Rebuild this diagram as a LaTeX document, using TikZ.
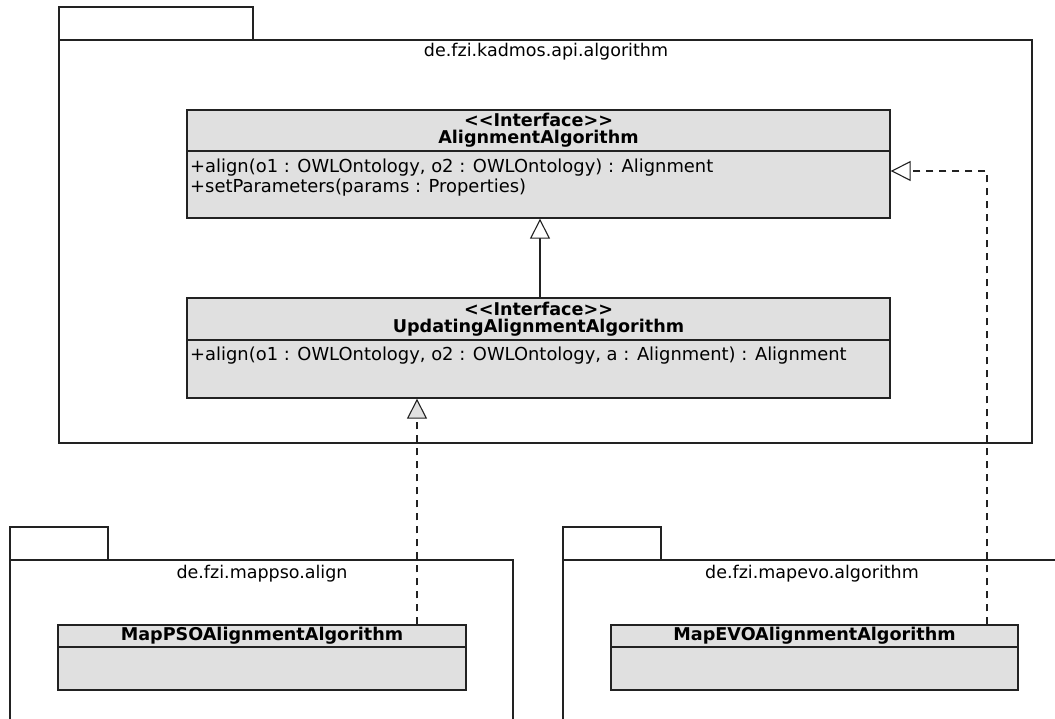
\documentclass[tikz,border=0pt]{standalone}
\usepackage{fontspec}
\setmainfont{DejaVu Sans}
\usetikzlibrary{arrows.meta}
\definecolor{boxgray}{RGB}{224,224,224}
\definecolor{ink}{RGB}{34,34,34}
\begin{document}
\begin{tikzpicture}[x=1pt,y=-1pt,
  every node/.style={font=\fontsize{17.5}{20}\selectfont, text=black, inner sep=0pt},
  pkgline/.style={draw=ink, line width=1.3pt},
  cls/.style={draw=ink, fill=boxgray, line width=1.3pt, rectangle},
  divline/.style={draw=ink, line width=1.1pt},
  gen/.style={draw=ink, line width=1.1pt, -{Triangle[open, length=20pt, width=20pt, fill=white]}},
  real/.style={draw=ink, line width=1.1pt, dash pattern=on 7pt off 6pt, -{Triangle[open, length=20pt, width=20pt, fill=white]}},
  realgray/.style={draw=ink, line width=1.1pt, dash pattern=on 7pt off 6pt, -{Triangle[open, length=20pt, width=20pt, fill=boxgray]}},
  title/.style={font=\fontsize{17.6}{20}\selectfont\bfseries},
  op/.style={anchor=west, font=\fontsize{17.9}{20}\selectfont}]
\useasboundingbox (0,0) rectangle (1055,719);

% packages
\draw[pkgline] (59,7) rectangle (253,40);
\draw[pkgline] (59,40) rectangle (1032,443);
\node (pk1) at (546,52) {de.fzi.kadmos.api.algorithm};

\draw[pkgline] (10,527) rectangle (108,560);
\draw[pkgline] (10,721) -- (10,560) -- (513,560) -- (513,721);
\node (pk2) at (262,574) {de.fzi.mappso.align};

\draw[pkgline] (563,527) rectangle (661,560);
\draw[pkgline] (563,721) -- (563,560) -- (1057,560);
\node (pk3) at (812,574) {de.fzi.mapevo.algorithm};

% classes
\node[cls, minimum width=703pt, minimum height=108pt] (A) at (538.5,164) {};
\draw[divline] (187,151) -- (890,151);
\node[title] (At1) at (538.5,120) {<\kern0pt<Interface>\kern0pt>};
\node[title] (At2) at (538.5,139) {AlignmentAlgorithm};
\node[op] (Ao1) at (190,168) {+align(o1 : OWLOntology, o2 : OWLOntology) : Alignment};
\node[op] (Ao2) at (190,188) {+setParameters(params : Properties)};

\node[cls, minimum width=703pt, minimum height=100pt] (U) at (538.5,348) {};
\draw[divline] (187,340) -- (890,340);
\node[title] (Ut1) at (538.5,309) {<\kern0pt<Interface>\kern0pt>};
\node[title] (Ut2) at (538.5,328) {UpdatingAlignmentAlgorithm};
\node[op] (Uo1) at (190,356) {+align(o1 : OWLOntology, o2 : OWLOntology, a : Alignment) : Alignment};

\node[cls, minimum width=408pt, minimum height=65pt] (P) at (262,657.5) {};
\draw[divline] (58,647) -- (466,647);
\node[title] (Pt) at (262,636) {MapPSOAlignmentAlgorithm};

\node[cls, minimum width=407pt, minimum height=65pt] (E) at (814.5,657.5) {};
\draw[divline] (611,647) -- (1018,647);
\node[title] (Et) at (814.5,636) {MapEVOAlignmentAlgorithm};

% connectors
\coordinate (gx) at (540,0);
\coordinate (px) at (417,0);
\coordinate (ex) at (987,0);
\coordinate (ay) at (0,171);
\draw[gen] (U.north -| gx) -- (A.south -| gx);
\draw[realgray] (P.north -| px) -- (U.south -| px);
\draw[real] (E.north -| ex) |- (A.east |- ay);
\end{tikzpicture}
\end{document}
